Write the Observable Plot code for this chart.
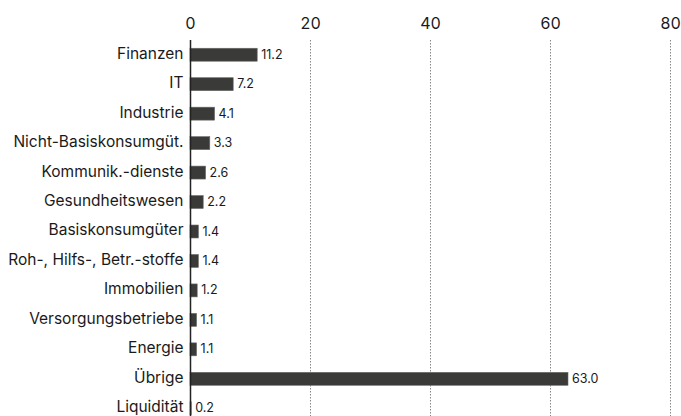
<!DOCTYPE html>
<html><head><meta charset="utf-8">
<script src="https://cdn.jsdelivr.net/npm/d3@7"></script>
<script src="https://cdn.jsdelivr.net/npm/@observablehq/plot@0.6"></script>
<style>
html,body{margin:0;padding:0;overflow:hidden;background:#fff;}
</style></head><body>
<div id="chart"></div>
<script>
const categories = ["Finanzen","IT","Industrie","Nicht-Basiskonsumgüt.","Kommunik.-dienste","Gesundheitswesen","Basiskonsumgüter","Roh-, Hilfs-, Betr.-stoffe","Immobilien","Versorgungsbetriebe","Energie","Übrige","Liquidität"];
const values = [11.2,7.2,4.1,3.3,2.6,2.2,1.4,1.4,1.2,1.1,1.1,63.0,0.2];
const xTicks = [0,20,40,60,80];

const data = categories.map((c,i)=>({category:c, value:values[i]}));

const chart = Plot.plot({
  width: 681,
  height: 423,
  marginTop: 40,
  marginBottom: 0,
  marginLeft: 190,
  marginRight: 11,
  style: {fontFamily: "Inter, 'Noto Sans', sans-serif", fontSize: "15.5px", color: "#1a1a1a", background: "#fff"},
  x: {domain: [0,80], label: null},
  y: {domain: categories, label: null, paddingInner: 0.56, paddingOuter: 0.28, round: false},
  marks: [
    Plot.axisX(xTicks, {anchor: "top", tickSize: 0, tickPadding: 12, fontSize: 16, label: null}),
    Plot.axisY({anchor: "left", tickSize: 0, tickPadding: 7, dy: -1.5, label: null}),
    Plot.gridX(xTicks.filter(d=>d>0), {stroke: "#888", strokeOpacity: 1, strokeDasharray: "1.5,1.5", strokeWidth: 1}),
    Plot.barX(data, {x: "value", y: "category", fill: "#3a3a38", stroke: "#6a6a68", strokeWidth: 0.6}),
    Plot.ruleX([0], {stroke: "#222", strokeWidth: 1.5}),
    Plot.text(data, {x: "value", y: "category", text: d => d.value.toFixed(1), textAnchor: "start", dx: 3.5, dy: -0.5, fontSize: 12.5, fill: "#1a1a1a"})
  ]
});
document.getElementById("chart").appendChild(chart);
</script>
</body></html>
